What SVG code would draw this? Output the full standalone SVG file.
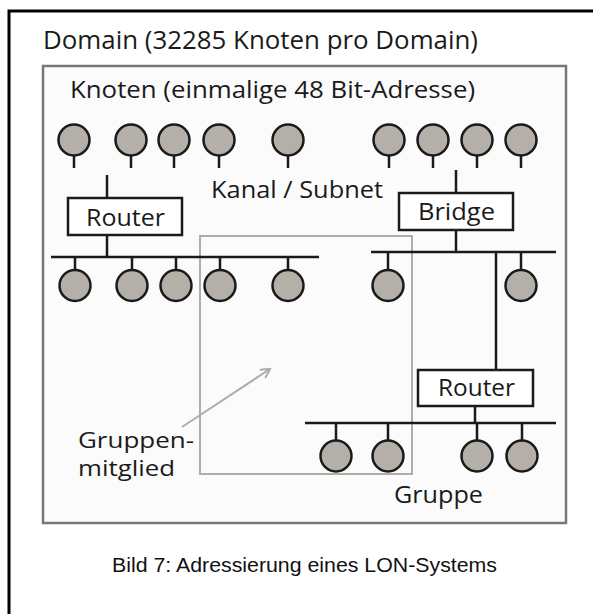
<svg xmlns="http://www.w3.org/2000/svg" width="593" height="614" viewBox="0 0 593 614">
<style>
.t{font-family:"Open Sans","Noto Sans","Liberation Sans",sans-serif;fill:#1a1a1a}
.ln{stroke:#1a1a1a;stroke-width:2.5;fill:none}
.nd{fill:#b5afaa;stroke:#1a1a1a;stroke-width:2.5}
.box{fill:#ffffff;stroke:#1a1a1a;stroke-width:2.5}
</style>
<defs>
<marker id="ah" viewBox="0 0 12 12" refX="10" refY="6" markerWidth="12" markerHeight="12" markerUnits="userSpaceOnUse" orient="auto">
<path d="M1,1 L10,6 L1,11" fill="none" stroke="#b0aca8" stroke-width="2"/>
</marker>
</defs>
<rect width="593" height="614" fill="#ffffff"/>
<g id="frame">
<path d="M9,614 V11 H593" fill="none" stroke="#000" stroke-width="3"/>
</g>
<g id="domain">
<rect x="43" y="66" width="523" height="457" fill="#fbfbfb" stroke="#777" stroke-width="2.5"/>
<text class="t" x="43" y="49" font-size="25" textLength="435" lengthAdjust="spacingAndGlyphs">Domain (32285 Knoten pro Domain)</text>
<text class="t" x="70" y="98" font-size="24" textLength="405" lengthAdjust="spacingAndGlyphs">Knoten (einmalige 48 Bit-Adresse)</text>
<text class="t" x="211" y="198" font-size="24" textLength="172" lengthAdjust="spacingAndGlyphs">Kanal / Subnet</text>
</g>
<g id="gruppe">
<rect x="200" y="236" width="212" height="238" fill="none" stroke="#b0aca8" stroke-width="2"/>
<text class="t" x="394" y="503" font-size="24" textLength="89" lengthAdjust="spacingAndGlyphs">Gruppe</text>
</g>
<g id="connectors">
<path class="ln" d="M74,155 V168 M131,155 V168 M174,155 V168 M219,155 V168 M288,155 V168 M389,155 V168 M433,155 V168 M477,155 V168 M521,155 V168"/>
<path class="ln" d="M107,175 V198 M107,235 V257 M51,257 H319"/>
<path class="ln" d="M75,257 V270 M132,257 V270 M176,257 V270 M220,257 V270 M288,257 V270"/>
<path class="ln" d="M456,170 V193 M456,230 V252 M371,252 H556 M388,252 V270 M521,252 V270 M496,252 V370"/>
<path class="ln" d="M475,406 V423 M305,423 H556 M336,423 V440 M388,423 V440 M477,423 V440 M522,423 V440"/>
<path d="M182,427 L270,369" stroke="#b0aca8" stroke-width="2" fill="none" marker-end="url(#ah)"/>
</g>
<g id="nodes-top">
<circle class="nd" cx="74" cy="140" r="15.5"/>
<circle class="nd" cx="131" cy="140" r="15.5"/>
<circle class="nd" cx="174" cy="140" r="15.5"/>
<circle class="nd" cx="219" cy="140" r="15.5"/>
<circle class="nd" cx="288" cy="140" r="15.5"/>
<circle class="nd" cx="389" cy="140" r="15.5"/>
<circle class="nd" cx="433" cy="140" r="15.5"/>
<circle class="nd" cx="477" cy="140" r="15.5"/>
<circle class="nd" cx="521" cy="140" r="15.5"/>
</g>
<g id="router1">
<rect class="box" x="68" y="198" width="114" height="37"/>
<text class="t" x="86" y="226" font-size="24" textLength="79" lengthAdjust="spacingAndGlyphs">Router</text>
</g>
<g id="nodes-mid">
<circle class="nd" cx="75" cy="285.5" r="15.5"/>
<circle class="nd" cx="132" cy="285.5" r="15.5"/>
<circle class="nd" cx="176" cy="285.5" r="15.5"/>
<circle class="nd" cx="220" cy="285.5" r="15.5"/>
<circle class="nd" cx="288" cy="285.5" r="15.5"/>
<circle class="nd" cx="388" cy="285.5" r="15.5"/>
<circle class="nd" cx="521" cy="285.5" r="15.5"/>
</g>
<g id="bridge">
<rect class="box" x="399" y="193" width="114" height="37"/>
<text class="t" x="418" y="220" font-size="24" textLength="77" lengthAdjust="spacingAndGlyphs">Bridge</text>
</g>
<g id="router2">
<rect class="box" x="418" y="370" width="115" height="36"/>
<text class="t" x="438" y="396" font-size="24" textLength="77" lengthAdjust="spacingAndGlyphs">Router</text>
</g>
<g id="nodes-bottom">
<circle class="nd" cx="336" cy="456" r="15.5"/>
<circle class="nd" cx="388" cy="456" r="15.5"/>
<circle class="nd" cx="477" cy="456" r="15.5"/>
<circle class="nd" cx="522" cy="456" r="15.5"/>
</g>
<g id="gruppenmitglied">
<text class="t" x="78" y="448" font-size="22" textLength="116" lengthAdjust="spacingAndGlyphs">Gruppen-</text>
<text class="t" x="78" y="476" font-size="22" textLength="97" lengthAdjust="spacingAndGlyphs">mitglied</text>
</g>
<g id="caption">
<text x="112" y="572" font-family="'Liberation Sans',Arial,sans-serif" font-size="20" textLength="385" lengthAdjust="spacingAndGlyphs" fill="#111">Bild 7: Adressierung eines LON-Systems</text>
</g>
</svg>
